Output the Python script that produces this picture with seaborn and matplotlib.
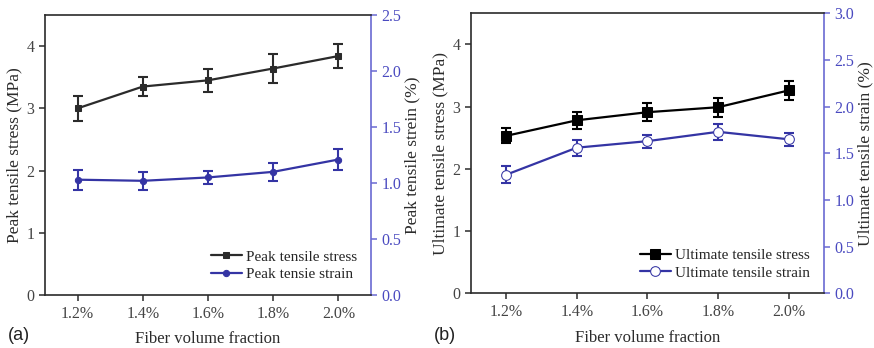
import matplotlib
matplotlib.use("Agg")
import matplotlib.pyplot as plt
import seaborn as sns
import pandas as pd
import numpy as np

fractions = ["1.2%", "1.4%", "1.6%", "1.8%", "2.0%"]

peak_stress = [3.00, 3.35, 3.45, 3.64, 3.84]
peak_stress_err = [0.20, 0.15, 0.18, 0.23, 0.19]
peak_strain = [1.03, 1.02, 1.05, 1.10, 1.21]
peak_strain_err = [0.09, 0.08, 0.06, 0.08, 0.09]

ult_stress = [2.53, 2.78, 2.91, 2.99, 3.26]
ult_stress_err = [0.12, 0.14, 0.14, 0.15, 0.15]
ult_strain = [1.27, 1.56, 1.63, 1.73, 1.65]
ult_strain_err = [0.09, 0.085, 0.07, 0.085, 0.07]

sns.set_theme(style="ticks")
plt.rcParams["font.family"] = ["Liberation Serif", "DejaVu Serif"]

BLACK = "#2b2b2b"
BLUE = "#3434a4"
SPINE_BLUE = "#6a6ad2"

fig = plt.figure(figsize=(8.74, 3.48), dpi=100)
axa = fig.add_axes([0.0515, 0.152, 0.373, 0.805])
axb = fig.add_axes([0.5386, 0.157, 0.4042, 0.805])

def panel(ax, stress, stress_err, strain, strain_err, ymax2, lab1, lab2,
          ylab1, ylab2, small):
    df = pd.DataFrame({"x": np.arange(len(fractions)), "stress": stress,
                       "strain": strain})
    ax2 = ax.twinx()
    if small:
        m1 = dict(marker="s", markersize=4, color=BLACK, markeredgecolor=BLACK)
        m2 = dict(marker="o", markersize=4.5, color=BLUE, markeredgecolor=BLUE)
    else:
        m1 = dict(marker="s", markersize=7, color="black", markeredgecolor="black")
        m2 = dict(marker="o", markersize=7, color=BLUE, markeredgecolor=BLUE,
                  markerfacecolor="white")
    ax.errorbar(df["x"], df["stress"], yerr=stress_err, fmt="none",
                ecolor=m1["color"], elinewidth=1.5, capsize=3.5, capthick=1.5,
                zorder=2)
    sns.lineplot(data=df, x="x", y="stress", ax=ax, linewidth=1.6,
                 label=lab1, legend=False, zorder=3, **m1)
    ax2.errorbar(df["x"], df["strain"], yerr=strain_err, fmt="none",
                 ecolor=BLUE, elinewidth=1.5, capsize=3.5, capthick=1.5, zorder=2)
    sns.lineplot(data=df, x="x", y="strain", ax=ax2, linewidth=1.6,
                 label=lab2, legend=False, zorder=3, **m2)
    ax.set_xlim(-0.5, 4.5)
    ax.set_ylim(0, 4.5)
    ax.set_yticks([0, 1, 2, 3, 4])
    ax.set_xticks(np.arange(len(fractions)))
    ax.set_xticklabels(fractions)
    ax2.set_ylim(0, ymax2)
    ticks2 = np.arange(0, ymax2 + 0.01, 0.5)
    ax2.set_yticks(ticks2)
    ax2.set_yticklabels([f"{v:.1f}" for v in ticks2])
    ax.set_xlabel("Fiber volume fraction", fontsize=12, color=BLACK, labelpad=7)
    ax.set_ylabel(ylab1, fontsize=12.5, color=BLACK, labelpad=3)
    ax2.set_ylabel(ylab2, fontsize=12.5, color=BLACK, labelpad=2)
    for s in ["left", "bottom", "top"]:
        ax.spines[s].set_color(BLACK)
        ax.spines[s].set_linewidth(1.2)
    ax.spines["right"].set_visible(False)
    for s in ["left", "bottom", "top"]:
        ax2.spines[s].set_visible(False)
    ax2.spines["right"].set_visible(True)
    ax2.spines["right"].set_color(SPINE_BLUE)
    ax2.spines["right"].set_linewidth(1.2)
    ax.tick_params(axis="both", direction="out", length=4, width=1.1,
                   colors=BLACK, labelsize=11.5, labelcolor="#444444")
    ax2.tick_params(axis="y", direction="out", length=4, width=1.1,
                    colors=SPINE_BLUE, labelsize=11.5, labelcolor="#4a4ac0")
    h1, lb1 = ax.get_legend_handles_labels()
    h2, lb2 = ax2.get_legend_handles_labels()
    ax2.legend(h1 + h2, lb1 + lb2, loc="lower right", frameon=False,
               fontsize=11, handlelength=2.0, handletextpad=0.3,
               borderaxespad=0.5, labelspacing=0.25,
               bbox_to_anchor=(1.0, 0.0))
    ax.set_zorder(ax2.get_zorder() + 1)
    ax.patch.set_visible(False)
    return ax2

panel(axa, peak_stress, peak_stress_err, peak_strain, peak_strain_err, 2.5,
      "Peak tensile stress", "Peak tensie strain",
      "Peak tensile stress (MPa)", "Peak tensile strein (%)", True)
panel(axb, ult_stress, ult_stress_err, ult_strain, ult_strain_err, 3.0,
      "Ultimate tensile stress", "Ultimate tensile strain",
      "Ultimate tensile stress (MPa)", "Ultimate tensile strain (%)", False)

fig.text(8 / 874, 1 - 335 / 348, "(a)", fontsize=13, family="Liberation Sans",
         va="center", ha="left", color="#222222")
fig.text(434 / 874, 1 - 335 / 348, "(b)", fontsize=13, family="Liberation Sans",
         va="center", ha="left", color="#222222")

fig.savefig("out.png", dpi=100)
